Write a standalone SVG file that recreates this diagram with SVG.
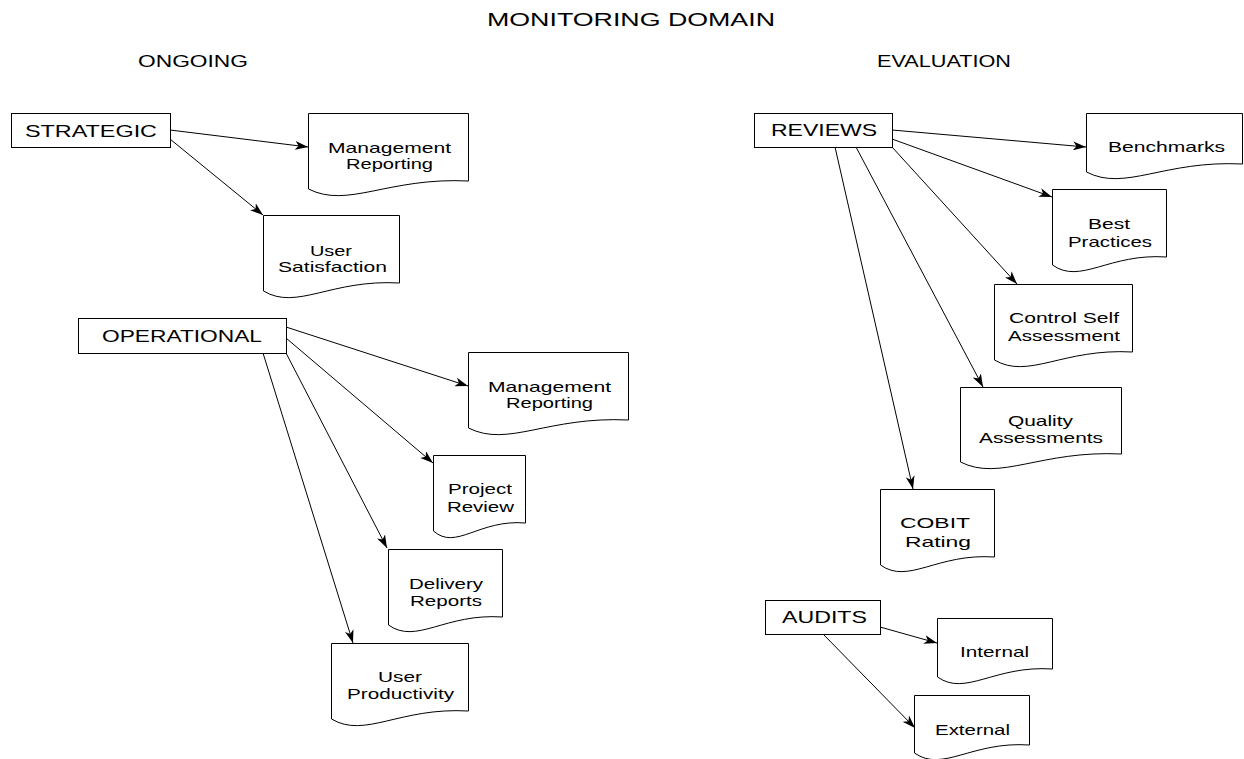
<svg xmlns="http://www.w3.org/2000/svg" width="1244" height="759" viewBox="0 0 1244 759">
<defs>
<style>
text{font-family:"Liberation Sans",Arial,sans-serif;fill:#000;}
.title{font-size:17.5px;}
.sub{font-size:16.5px;}
.lbl{font-size:16.5px;}
.doc{font-size:15px;}
.box{fill:#fff;stroke:#000;stroke-width:1;}
.edge{fill:none;stroke:#000;stroke-width:1;marker-end:url(#ah);}
</style>
<marker id="ah" viewBox="0 0 13 9" refX="13" refY="4.5" markerWidth="13" markerHeight="9" orient="auto" markerUnits="userSpaceOnUse">
<path d="M0,0 L13,4.5 L0,9 L3.5,4.5 Z" fill="#000"/>
</marker>
</defs>
<rect width="1244" height="759" fill="#fff"/>
<text class="title" x="487" y="26" textLength="288" lengthAdjust="spacingAndGlyphs">MONITORING DOMAIN</text>
<text class="sub" x="138" y="67" textLength="110" lengthAdjust="spacingAndGlyphs">ONGOING</text>
<text class="sub" x="877" y="67" textLength="134" lengthAdjust="spacingAndGlyphs">EVALUATION</text>

<g id="connectors">
<line class="edge" x1="170" y1="130" x2="308" y2="147"/>
<line class="edge" x1="170" y1="139" x2="263" y2="215"/>
<line class="edge" x1="286" y1="327" x2="468" y2="386"/>
<line class="edge" x1="286" y1="338" x2="433" y2="463"/>
<line class="edge" x1="286" y1="353" x2="387" y2="548"/>
<line class="edge" x1="263" y1="353" x2="353" y2="643"/>
<line class="edge" x1="892" y1="130" x2="1086" y2="147"/>
<line class="edge" x1="892" y1="139" x2="1052" y2="197"/>
<line class="edge" x1="892" y1="147" x2="1017" y2="284"/>
<line class="edge" x1="856" y1="147" x2="983" y2="387"/>
<line class="edge" x1="835" y1="147" x2="913" y2="489"/>
<line class="edge" x1="880" y1="627" x2="937" y2="643"/>
<line class="edge" x1="823" y1="634" x2="915" y2="728"/>
</g>

<g id="strategic">
<rect class="box" x="11.5" y="113.5" width="159" height="34"/>
<text class="lbl" x="25" y="136.5" textLength="132" lengthAdjust="spacingAndGlyphs">STRATEGIC</text>
</g>
<g id="operational">
<rect class="box" x="78.5" y="318.5" width="208" height="35"/>
<text class="lbl" x="102" y="342" textLength="160" lengthAdjust="spacingAndGlyphs">OPERATIONAL</text>
</g>
<g id="reviews">
<rect class="box" x="754.5" y="113.5" width="138" height="34"/>
<text class="lbl" x="771" y="136" textLength="106" lengthAdjust="spacingAndGlyphs">REVIEWS</text>
</g>
<g id="audits">
<rect class="box" x="765.5" y="600.5" width="115" height="34"/>
<text class="lbl" x="782" y="623" textLength="85" lengthAdjust="spacingAndGlyphs">AUDITS</text>
</g>

<g id="mgmt-reporting-1">
<path class="box" d="M308.5,113.5 H468.5 V181 C388,177 348,209 308.5,189 Z"/>
<text class="doc" x="328" y="153" textLength="123" lengthAdjust="spacingAndGlyphs">Management</text>
<text class="doc" x="346" y="169" textLength="87" lengthAdjust="spacingAndGlyphs">Reporting</text>
</g>
<g id="user-satisfaction">
<path class="box" d="M263.5,215.5 H399.5 V283 C331,279 297,311 263.5,291 Z"/>
<text class="doc" x="310" y="256" textLength="42" lengthAdjust="spacingAndGlyphs">User</text>
<text class="doc" x="278" y="272" textLength="109" lengthAdjust="spacingAndGlyphs">Satisfaction</text>
</g>
<g id="mgmt-reporting-2">
<path class="box" d="M468.5,352.5 H628.5 V420 C548,416 508,448 468.5,428 Z"/>
<text class="doc" x="488" y="392" textLength="123" lengthAdjust="spacingAndGlyphs">Management</text>
<text class="doc" x="506" y="408" textLength="87" lengthAdjust="spacingAndGlyphs">Reporting</text>
</g>
<g id="project-review">
<path class="box" d="M433.5,455.5 H525.5 V523 C479,519 456,551 433.5,531 Z"/>
<text class="doc" x="448" y="494" textLength="64" lengthAdjust="spacingAndGlyphs">Project</text>
<text class="doc" x="447" y="512" textLength="67" lengthAdjust="spacingAndGlyphs">Review</text>
</g>
<g id="delivery-reports">
<path class="box" d="M388.5,549.5 H502.5 V617 C445,613 416.5,645 388.5,625 Z"/>
<text class="doc" x="409" y="589" textLength="74" lengthAdjust="spacingAndGlyphs">Delivery</text>
<text class="doc" x="410" y="606" textLength="72" lengthAdjust="spacingAndGlyphs">Reports</text>
</g>
<g id="user-productivity">
<path class="box" d="M331.5,643.5 H468.5 V711 C399.5,707 365,739 331.5,719 Z"/>
<text class="doc" x="378" y="682" textLength="44" lengthAdjust="spacingAndGlyphs">User</text>
<text class="doc" x="347" y="699" textLength="107" lengthAdjust="spacingAndGlyphs">Productivity</text>
</g>

<g id="benchmarks">
<path class="box" d="M1086.5,113.5 H1242.5 V164 C1164,160 1125,192 1086.5,172 Z"/>
<text class="doc" x="1108" y="152" textLength="117" lengthAdjust="spacingAndGlyphs">Benchmarks</text>
</g>
<g id="best-practices">
<path class="box" d="M1052.5,189.5 H1166.5 V257 C1109,253 1080.5,285 1052.5,265 Z"/>
<text class="doc" x="1088" y="229" textLength="42" lengthAdjust="spacingAndGlyphs">Best</text>
<text class="doc" x="1068" y="247" textLength="84" lengthAdjust="spacingAndGlyphs">Practices</text>
</g>
<g id="control-self-assessment">
<path class="box" d="M994.5,284.5 H1132.5 V352 C1063,348 1028.5,380 994.5,360 Z"/>
<text class="doc" x="1009" y="323" textLength="110" lengthAdjust="spacingAndGlyphs">Control Self</text>
<text class="doc" x="1008" y="341" textLength="112" lengthAdjust="spacingAndGlyphs">Assessment</text>
</g>
<g id="quality-assessments">
<path class="box" d="M960.5,387.5 H1121.5 V454 C1040.5,450 1000,482 960.5,462 Z"/>
<text class="doc" x="1008" y="426" textLength="65" lengthAdjust="spacingAndGlyphs">Quality</text>
<text class="doc" x="979" y="443" textLength="124" lengthAdjust="spacingAndGlyphs">Assessments</text>
</g>
<g id="cobit-rating">
<path class="box" d="M880.5,489.5 H994.5 V557 C937,553 908.5,585 880.5,565 Z"/>
<text class="doc" x="900" y="528" textLength="70" lengthAdjust="spacingAndGlyphs">COBIT</text>
<text class="doc" x="905" y="547" textLength="66" lengthAdjust="spacingAndGlyphs">Rating</text>
</g>
<g id="internal">
<path class="box" d="M937.5,618.5 H1052.5 V669 C994.5,665 965.75,697 937.5,677 Z"/>
<text class="doc" x="960" y="657" textLength="69" lengthAdjust="spacingAndGlyphs">Internal</text>
</g>
<g id="external">
<path class="box" d="M914.5,695.5 H1029.5 V745 C971.5,741 942.75,773 914.5,753 Z"/>
<text class="doc" x="935" y="735" textLength="75" lengthAdjust="spacingAndGlyphs">External</text>
</g>
</svg>
